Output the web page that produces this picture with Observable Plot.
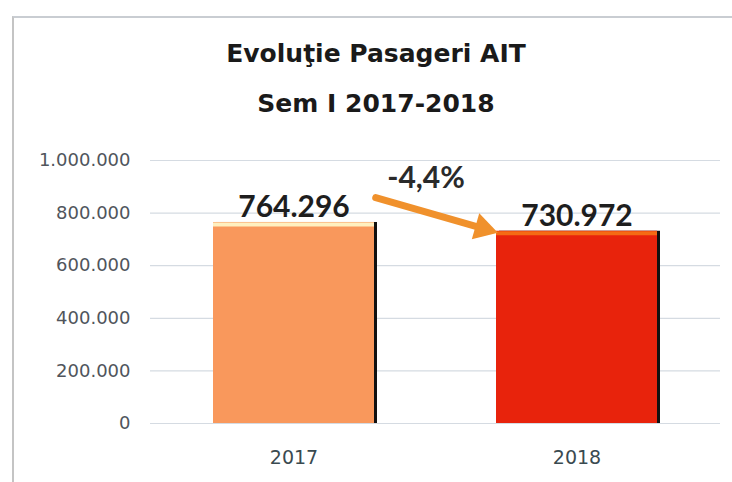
<!DOCTYPE html>
<html><head><meta charset="utf-8">
<script src="https://cdn.jsdelivr.net/npm/d3@7"></script>
<script src="https://cdn.jsdelivr.net/npm/@observablehq/plot@0.6"></script>
<style>
body{margin:0;background:#fff;width:732px;height:482px;overflow:hidden;position:relative;font-family:Lato,sans-serif}
#frame{position:absolute;left:12px;top:16px;width:730px;height:470px;border-top:2px solid #c9cdd2;border-left:2px solid #c4c4c4}
#title{position:absolute;left:0;top:29px;width:752px;text-align:center;font-weight:bold;font-size:25px;font-family:"DejaVu Sans",sans-serif;color:#1a1a1a;line-height:50px}
#chart{position:absolute;left:0;top:140px}
</style></head><body>
<div id="frame"></div>
<div id="title">Evoluţie Pasageri AIT<br>Sem I 2017-2018</div>
<div id="chart"></div>
<script>
const years = ["2017", "2018"];
const passengers = [764296, 730972];
const barColors = ["#f9985c", "#e8230c"];
const topColors = ["#fff0c0", "#f56a14"];
const yTicks = [0, 200000, 400000, 600000, 800000, 1000000];
// annotation anchors (data space) for the change arrow and its label
const arrowY = [948000, 639000];
const arrowHeadY = 742000;
const pctLabelY = 932000;

const loc = d3.formatLocale({decimal: ",", thousands: ".", grouping: [3], currency: ["", ""], minus: "-"});
const fmtInt = loc.format(",d");
const fmtPct = loc.format(".1f");

const data = years.map((year, i) => ({year, value: passengers[i]}));
const change = [{from: years[0], to: years[1], y1: arrowY[0], y2: arrowY[1], head: arrowHeadY, labelY: pctLabelY,
  pct: fmtPct((passengers[1] / passengers[0] - 1) * 100) + "%"}];

const arrowColor = "#f0912c";

const plot = Plot.plot({
  width: 732,
  height: 342,
  marginTop: 20,
  marginBottom: 59,
  marginLeft: 150,
  marginRight: 12,
  style: {background: "transparent", overflow: "visible"},
  x: {domain: years, paddingInner: 0.43, paddingOuter: 0.22, label: null},
  y: {domain: [0, 1000000], label: null},
  color: {domain: years, range: barColors},
  marks: [
    Plot.gridY(yTicks, {stroke: "#d5dbe2", strokeOpacity: 1, strokeWidth: 1.2}),
    Plot.axisY({ticks: yTicks, tickFormat: fmtInt, tickSize: 0, tickPadding: 20, fontSize: 18, fontFamily: "DejaVu Sans", color: "#50555c", style: {letterSpacing: "0.5px"}}),
    Plot.axisX({tickSize: 0, tickPadding: 27, fontSize: 19, fontFamily: "DejaVu Sans", color: "#3a4a50"}),
    Plot.barY(data, {x: "year", y: "value", fill: "#111", dx: 3}),
    Plot.barY(data, {x: "year", y: "value", fill: "year"}),
    ...years.map((yr, i) => Plot.tickY(data.filter(d => d.year === yr), {x: "year", y: "value", stroke: topColors[i], strokeWidth: 4, dy: 2})),
    Plot.text(data, {x: "year", y: "value", text: d => fmtInt(d.value), dy: -15, fontSize: 30, fontWeight: "bold", fontFamily: "Lato", fill: "#1e1e1e"}),
    Plot.arrow(change, {x1: "from", y1: "y1", x2: "to", y2: "y2", stroke: arrowColor, strokeWidth: 7, headLength: 0, insetStart: 85, insetEnd: 98}),
    Plot.dot(change, {x: "to", y: "head", dx: -94, symbol: "triangle", r: 10, rotate: 106, fill: arrowColor, stroke: null}),
    Plot.text(change, {x: "from", y: "labelY", dx: 132, text: "pct", fontSize: 30, fontWeight: "bold", fontFamily: "Lato", fill: "#2a2a2a"})
  ]
});
document.getElementById("chart").append(plot);
</script>
</body></html>
